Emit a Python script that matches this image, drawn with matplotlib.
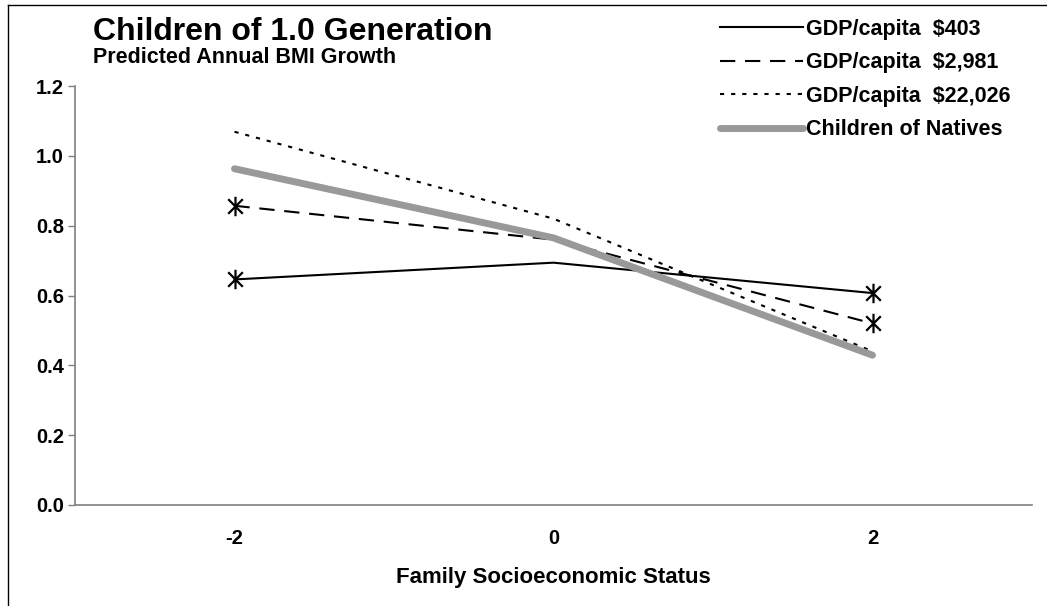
import matplotlib
matplotlib.use('Agg')
import matplotlib.pyplot as plt
from matplotlib.path import Path
from matplotlib.lines import Line2D

plt.rcParams['font.family'] = ['Liberation Sans', 'DejaVu Sans']
plt.rcParams['font.weight'] = 'bold'
plt.rcParams['lines.scale_dashes'] = False

ses = ['-2', '0', '2']
gdp_403 = [0.646, 0.694, 0.607]
gdp_2981 = [0.857, 0.760, 0.520]
gdp_22026 = [1.069, 0.820, 0.440]
natives = [0.963, 0.765, 0.429]

labels = ['GDP/capita  \\$403', 'GDP/capita  \\$2,981',
          'GDP/capita  \\$22,026', 'Children of Natives']

# six-armed asterisk marker
star = Path([(0, -1), (0, 1), (-0.75, -0.75), (0.75, 0.75), (-0.75, 0.75), (0.75, -0.75)],
            [Path.MOVETO, Path.LINETO, Path.MOVETO, Path.LINETO, Path.MOVETO, Path.LINETO])

fig = plt.figure(figsize=(10.47, 6.06), dpi=100)
ax = fig.add_axes([75 / 1047, 1 - 505 / 606, (1032 - 75) / 1047, (505 - 86) / 606])

x = range(len(ses))
ax.plot(x, gdp_403, color='black', lw=1.5, marker=star, markevery=[0, 2],
        markersize=14, markeredgewidth=1.6, markerfacecolor='none', label=labels[0])
ax.plot(x, gdp_2981, color='black', lw=1.5, dashes=(11, 7), marker=star, markevery=[0, 2],
        markersize=14, markeredgewidth=1.6, markerfacecolor='none', label=labels[1])
ax.plot(x, gdp_22026, color='black', lw=1.5, dashes=(3, 5), label=labels[2])
ax.plot(x, natives, color='#999999', lw=5, solid_capstyle='round', label=labels[3])

ax.set_xlim(-0.5, 2.5)
ax.set_ylim(0, 1.2)
ax.set_xticks(list(x))
ax.set_xticklabels(ses)
ax.set_yticks([0, 0.2, 0.4, 0.6, 0.8, 1.0, 1.2])
ax.set_yticklabels(['0.0', '0.2', '0.4', '0.6', '0.8', '1.0', '1.2'])
ax.tick_params(axis='x', length=0, pad=17, labelsize=14.5)
ax.tick_params(axis='y', length=5, width=1, color='#808080', labelsize=14.5, pad=3)
for s in ['top', 'right']:
    ax.spines[s].set_visible(False)
for s in ['left', 'bottom']:
    ax.spines[s].set_color('#808080')
    ax.spines[s].set_linewidth(1.2)
ax.set_xlabel('Family Socioeconomic Status', fontsize=16, fontweight='bold', labelpad=14)

fig.text(93 / 1047, 1 - 17 / 606, 'Children of 1.0 Generation', fontsize=23,
         fontweight='bold', va='top', ha='left')
fig.text(93 / 1047, 1 - 47 / 606, 'Predicted Annual BMI Growth', fontsize=15.5,
         fontweight='bold', va='top', ha='left')

leg = fig.legend(loc='upper left', bbox_to_anchor=(709 / 1047, 1 - 8 / 606),
                 frameon=False, fontsize=15.5, handlelength=3.85, handletextpad=0.15,
                 labelspacing=0.58, borderpad=0)
for h in leg.get_lines():
    h.set_marker('None')

# figure border (left and top visible)
fig.add_artist(Line2D([8 / 1047, 8 / 1047], [0, 1 - 5 / 606], transform=fig.transFigure,
                      color='black', lw=1))
fig.add_artist(Line2D([8 / 1047, 1], [1 - 5 / 606, 1 - 5 / 606], transform=fig.transFigure,
                      color='black', lw=1))

fig.savefig('out.png', dpi=100)
